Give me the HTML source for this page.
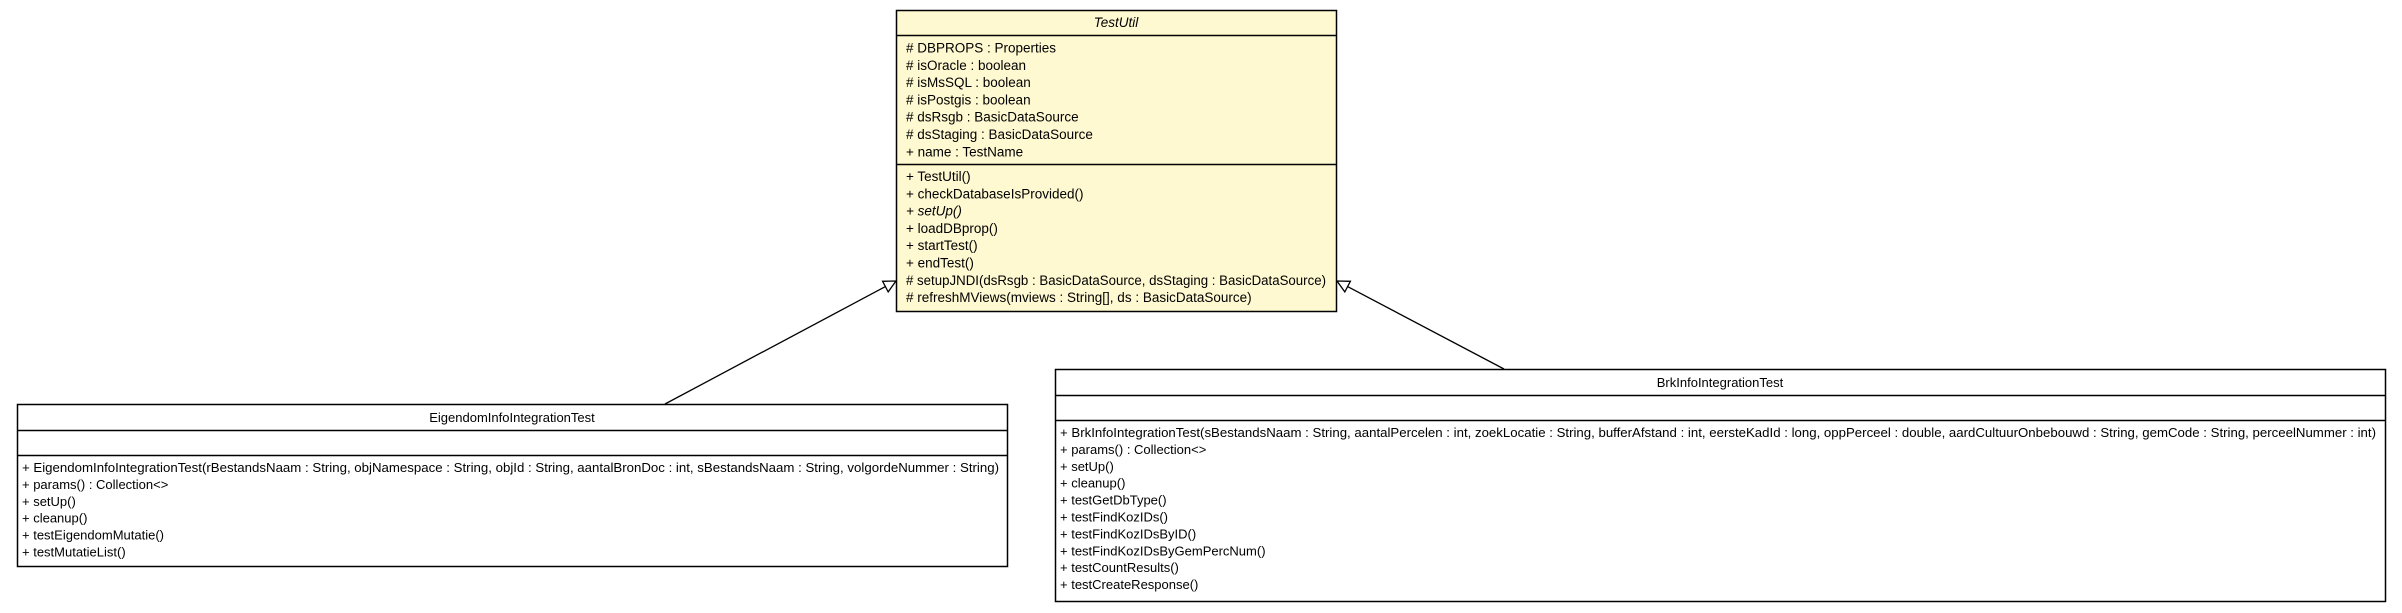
<!DOCTYPE html>
<html><head><style>
html,body{margin:0;padding:0;background:#fff;}
svg{display:block;}
text{font-family:"Liberation Sans",sans-serif;fill:#000;}
</style></head><body>
<svg width="2402" height="613" viewBox="0 0 2402 613" xmlns="http://www.w3.org/2000/svg">
<!-- connectors -->
<line x1="665" y1="404" x2="885.4" y2="286.6" stroke="#000" stroke-width="1.3"/>
<polygon points="896,281 888.2,291.9 882.6,281.3" fill="#fff" stroke="#000" stroke-width="1.3"/>
<line x1="1504" y1="369" x2="1347.6" y2="286.6" stroke="#000" stroke-width="1.3"/>
<polygon points="1337,281 1350.4,281.3 1344.8,291.9" fill="#fff" stroke="#000" stroke-width="1.3"/>

<!-- TestUtil -->
<rect x="896.5" y="10.5" width="440" height="301" fill="#fff9d1" stroke="#000" stroke-width="1.5"/>
<line x1="896" y1="35.5" x2="1337" y2="35.5" stroke="#000" stroke-width="1.5"/>
<line x1="896" y1="164.5" x2="1337" y2="164.5" stroke="#000" stroke-width="1.5"/>
<g font-size="13.5">
<text x="1116" y="27" text-anchor="middle" font-style="italic">TestUtil</text>
<text x="906" y="52.5"># DBPROPS : Properties</text>
<text x="906" y="69.8"># isOracle : boolean</text>
<text x="906" y="87.1"># isMsSQL : boolean</text>
<text x="906" y="104.4"># isPostgis : boolean</text>
<text x="906" y="121.7"># dsRsgb : BasicDataSource</text>
<text x="906" y="139"># dsStaging : BasicDataSource</text>
<text x="906" y="156.3">+ name : TestName</text>
<text x="906" y="181">+ TestUtil()</text>
<text x="906" y="198.3">+ checkDatabaseIsProvided()</text>
<text x="906" y="215.6" font-style="italic">+ setUp()</text>
<text x="906" y="232.9">+ loadDBprop()</text>
<text x="906" y="250.2">+ startTest()</text>
<text x="906" y="267.5">+ endTest()</text>
<text x="906" y="284.8" textLength="420" lengthAdjust="spacingAndGlyphs"># setupJNDI(dsRsgb : BasicDataSource, dsStaging : BasicDataSource)</text>
<text x="906" y="302.1"># refreshMViews(mviews : String[], ds : BasicDataSource)</text>
</g>

<!-- EigendomInfoIntegrationTest -->
<rect x="17.5" y="404.5" width="990" height="162" fill="#fff" stroke="#000" stroke-width="1.5"/>
<line x1="17" y1="430.5" x2="1008" y2="430.5" stroke="#000" stroke-width="1.5"/>
<line x1="17" y1="455.5" x2="1008" y2="455.5" stroke="#000" stroke-width="1.5"/>
<g font-size="13">
<text x="512" y="422" text-anchor="middle">EigendomInfoIntegrationTest</text>
<text x="22" y="472" textLength="977" lengthAdjust="spacingAndGlyphs">+ EigendomInfoIntegrationTest(rBestandsNaam : String, objNamespace : String, objId : String, aantalBronDoc : int, sBestandsNaam : String, volgordeNummer : String)</text>
<text x="22" y="488.9">+ params() : Collection&lt;&gt;</text>
<text x="22" y="505.8">+ setUp()</text>
<text x="22" y="522.7">+ cleanup()</text>
<text x="22" y="539.6">+ testEigendomMutatie()</text>
<text x="22" y="556.5">+ testMutatieList()</text>
</g>

<!-- BrkInfoIntegrationTest -->
<rect x="1055.5" y="369.5" width="1330" height="232" fill="#fff" stroke="#000" stroke-width="1.5"/>
<line x1="1055" y1="395.5" x2="2386" y2="395.5" stroke="#000" stroke-width="1.5"/>
<line x1="1055" y1="420.5" x2="2386" y2="420.5" stroke="#000" stroke-width="1.5"/>
<g font-size="13">
<text x="1720" y="387" text-anchor="middle">BrkInfoIntegrationTest</text>
<text x="1060" y="437" textLength="1316" lengthAdjust="spacingAndGlyphs">+ BrkInfoIntegrationTest(sBestandsNaam : String, aantalPercelen : int, zoekLocatie : String, bufferAfstand : int, eersteKadId : long, oppPerceel : double, aardCultuurOnbebouwd : String, gemCode : String, perceelNummer : int)</text>
<text x="1060" y="453.9">+ params() : Collection&lt;&gt;</text>
<text x="1060" y="470.8">+ setUp()</text>
<text x="1060" y="487.7">+ cleanup()</text>
<text x="1060" y="504.6">+ testGetDbType()</text>
<text x="1060" y="521.5">+ testFindKozIDs()</text>
<text x="1060" y="538.4">+ testFindKozIDsByID()</text>
<text x="1060" y="555.3">+ testFindKozIDsByGemPercNum()</text>
<text x="1060" y="572.2">+ testCountResults()</text>
<text x="1060" y="589.1">+ testCreateResponse()</text>
</g>
</svg>
</body></html>
